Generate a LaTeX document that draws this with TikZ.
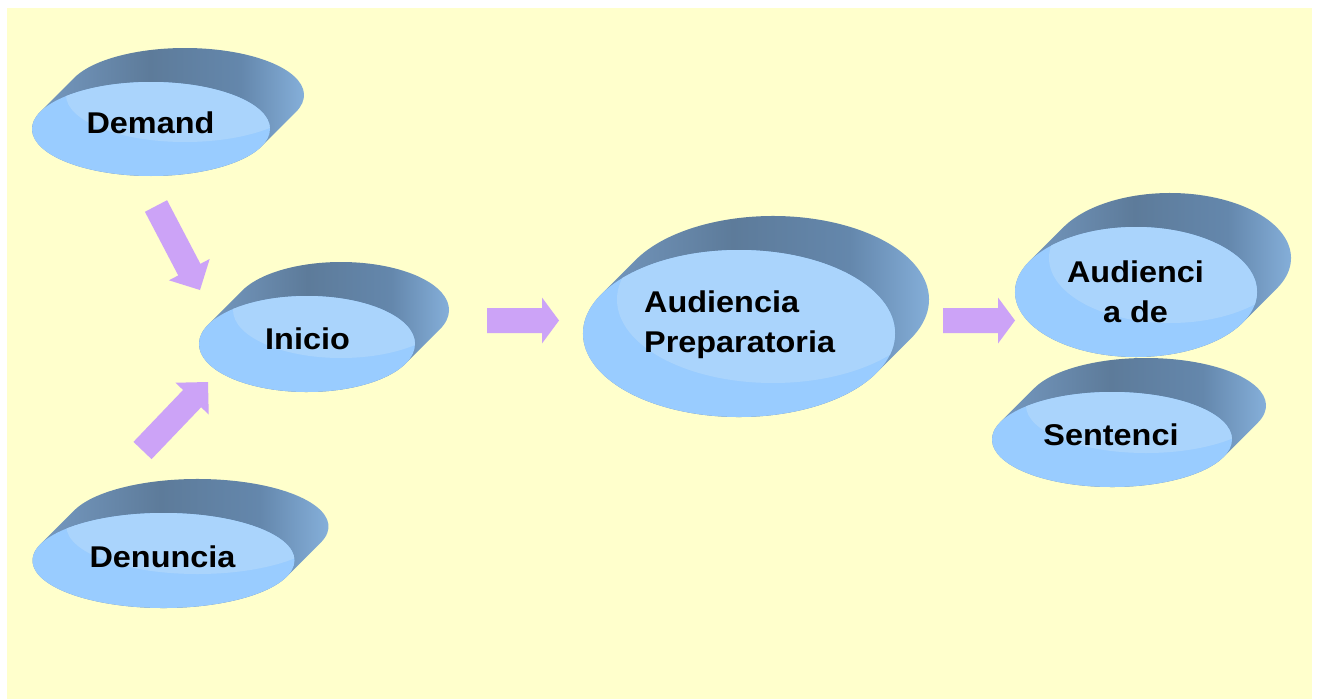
\documentclass[tikz,border=0pt]{standalone}
\usepackage{fontspec}
\usetikzlibrary{calc}
\newfontfamily\labelfont[FakeStretch=1.08]{Liberation Sans}

\definecolor{paper}{HTML}{FFFFCC}
\definecolor{faceblue}{HTML}{99CCFF}
\definecolor{facelight}{HTML}{AAD4FC}
\definecolor{sideL}{HTML}{7A9FC8}
\definecolor{sideD}{HTML}{5D7B9A}
\definecolor{sideM}{HTML}{6487AC}
\definecolor{sideR}{HTML}{8DB9E5}
\definecolor{arrowfill}{HTML}{CCA3F7}

% side wall of a disc: light at both ends, dark towards the middle
\pgfdeclarehorizontalshading{discside}{100bp}{color(0bp)=(sideL); color(25bp)=(sideL);
  color(47bp)=(sideD); color(62bp)=(sideM); color(75bp)=(sideR); color(100bp)=(sideR)}

% tilted disc: front face centre (#1,#2), radii #3 and #4; the back face sits up and to the right
\newcommand\discshape[4]{%
  \pgfmathsetmacro\disct{atan2(#4,#3)}%
  \pgfmathsetmacro\discsx{#1+#3*cos(\disct+180)}%
  \pgfmathsetmacro\discsy{#2+#4*sin(\disct+180)}%
  \shade[shading=discside] (\discsx,\discsy) -- ++(34,-34)
     arc[start angle=\disct+180, end angle=\disct+360, x radius=#3, y radius=#4]
     -- ++(-34,34)
     arc[start angle=\disct, end angle=\disct+180, x radius=#3, y radius=#4] -- cycle;
  \fill[faceblue] (#1,#2) ellipse[x radius=#3, y radius=#4];
  \begin{scope}
    \clip (#1,#2) ellipse[x radius=#3, y radius=#4];
    \fill[facelight] (#1+34,#2-34) ellipse[x radius=#3, y radius=#4];
  \end{scope}
}

% wide block arrow from #1 to #2, head length #3
\newcommand\blockarrow[3]{%
  \coordinate (ba-h) at ($(#2)!#3pt!(#1)$);
  \fill[arrowfill] ($(#1)!12.5pt!90:(#2)$) -- ($(ba-h)!12.5pt!90:(#2)$)
    -- ($(ba-h)!23pt!90:(#2)$) -- (#2) -- ($(ba-h)!23pt!-90:(#2)$)
    -- ($(ba-h)!12.5pt!-90:(#2)$) -- ($(#1)!12.5pt!-90:(#2)$) -- cycle;
}

\tikzset{disctext/.style={font=\labelfont\bfseries\fontsize{30}{40}\selectfont,
  inner sep=0pt, text=black}}

\begin{document}
\begin{tikzpicture}[x=1pt,y=-1pt]
  \useasboundingbox (0,0) rectangle (1318,699);
  \fill[white] (0,0) rectangle (1318,699);
  \fill[paper] (7,8) rectangle (1312,699);

  % discs
  \discshape{151}{129}{119}{47}
  \discshape{307}{344}{108}{48}
  \discshape{163.5}{560.5}{131}{47.5}
  \discshape{739}{333.5}{156}{83.5}
  \discshape{1136}{292}{121}{65}
  \discshape{1112}{439.5}{120}{47.5}

  % labels (base anchor of a two-line label sits on its last line)
  \node[disctext, anchor=base] (demand) at (150.5,133) {Demand};
  \node[disctext, anchor=base] (inicio) at (307.5,349) {Inicio};
  \node[disctext, anchor=base] (denuncia) at (162.5,567) {Denuncia};
  \node[disctext, anchor=base west, align=left] (audprep) at (644,352) {Audiencia\\Preparatoria};
  \node[disctext, anchor=base, align=center] (audde) at (1135.5,322) {Audienci\\a de};
  \node[disctext, anchor=base] (sentenci) at (1111,445) {Sentenci};

  % arrow ends
  \coordinate (a1t) at (156,206);  \coordinate (a1h) at (200,290);
  \coordinate (a2t) at (142.5,450.5); \coordinate (a2h) at (208,382);
  \coordinate (a3t) at (487,320.5); \coordinate (a3h) at (559,320.5);
  \coordinate (a4t) at (943,320.5); \coordinate (a4h) at (1015,320.5);

  \blockarrow{a1t}{a1h}{23}
  \blockarrow{a2t}{a2h}{23}
  \blockarrow{a3t}{a3h}{17}
  \blockarrow{a4t}{a4h}{17}
\end{tikzpicture}
\end{document}
